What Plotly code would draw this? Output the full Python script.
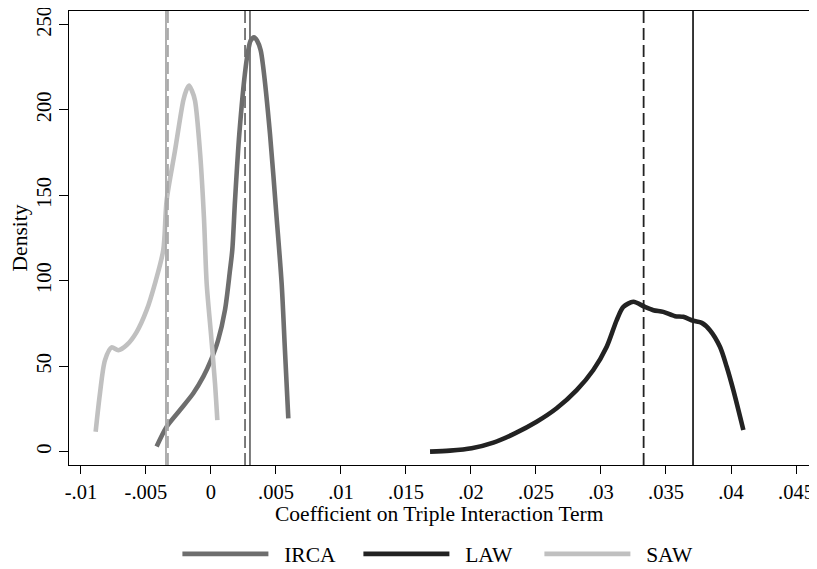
import plotly.graph_objects as go

# ---- data ----
irca_x = [-0.00418, -0.00341, -0.00238, -0.00136, -0.00059, 0.0, 0.00054, 0.00108, 0.00146,
          0.00164, 0.00185, 0.00218, 0.00267, 0.00287, 0.00305, 0.00331, 0.00355, 0.00382,
          0.00402, 0.00454, 0.00505, 0.00544, 0.00569, 0.00595]
irca_y = [3, 14.6, 24.4, 34.2, 43.9, 53.6, 65, 83, 106,
          118, 147, 186, 225, 235, 240.5, 242.5, 240.5, 235,
          225, 186, 137, 98, 59.4, 19.5]

law_x = [0.01685, 0.01838, 0.02005, 0.02172, 0.02338, 0.02505, 0.02659, 0.02813, 0.02941,
         0.03044, 0.03121, 0.03172, 0.03249, 0.03338, 0.03403, 0.03479, 0.0357, 0.03633,
         0.03710, 0.03775, 0.03838, 0.03915, 0.03967, 0.04018, 0.04095]
law_y = [0, 0.6, 2, 5.3, 10.7, 17.5, 25.4, 36, 47.8,
         61.4, 77, 84.7, 87.7, 84.7, 82.8, 81.8, 79.3, 78.9,
         76.6, 75.4, 71.1, 61.4, 49.7, 36, 12.7]

saw_x = [-0.00887, -0.00854, -0.00815, -0.00764, -0.00713, -0.00648, -0.00572, -0.00495,
         -0.00431, -0.00367, -0.00341, -0.00277, -0.00213, -0.00190, -0.00169, -0.00148,
         -0.00123, -0.00085, -0.00054, -0.00033, 0.0, 0.00031, 0.00049]
saw_y = [11.7, 34, 53.6, 61, 59.4, 62.4, 70, 82.8,
         98.4, 118, 147, 176, 205.5, 211.5, 214.3, 211.5,
         205.5, 176, 137, 98.4, 69, 40, 18.5]

# vertical reference lines: (solid, dashed) per series
irca_lines = [0.00300, 0.00262]
law_lines = [0.03708, 0.03328]
saw_lines = [-0.00346, -0.00331]

x_ticks = [-0.01, -0.005, 0, 0.005, 0.01, 0.015, 0.02, 0.025, 0.03, 0.035, 0.04, 0.045]
x_tick_text = ["-.01", "-.005", "0", ".005", ".01", ".015", ".02", ".025", ".03", ".035", ".04", ".045"]
y_ticks = [0, 50, 100, 150, 200, 250]
x_title = "Coefficient on Triple Interaction Term"

C_IRCA = "#6e6e6e"
C_LAW = "#222222"
C_SAW = "#c0c0c0"
FONT = "Liberation Serif"
FS = 21.5
FT = 20.5
NB = "\u00a0\u00a0"

fig = go.Figure()
for xs, ys, nm, col in [(irca_x, irca_y, "IRCA", C_IRCA), (law_x, law_y, "LAW", C_LAW),
                        (saw_x, saw_y, "SAW", C_SAW)]:
    fig.add_trace(go.Scatter(x=xs, y=ys, mode="lines", name=NB + nm,
                             line=dict(color=col, width=4.6, shape="spline", smoothing=0.8)))

for vals, col in [(irca_lines, C_IRCA), (law_lines, C_LAW), (saw_lines, "#a8a8a8")]:
    fig.add_vline(x=vals[0], line=dict(color=col, width=1.8))
    fig.add_vline(x=vals[1], line=dict(color=col, width=1.8, dash="12px,5px"))

# x-axis title as an annotation centred under the plot
fig.add_annotation(text=x_title, xref="paper", yref="paper", x=0.5, y=-0.109,
                   xanchor="center", yanchor="middle", showarrow=False,
                   font=dict(family=FONT, size=FS, color="black"))

# page has an 8px body margin, so the figure is 8px smaller than the window
fig.update_layout(
    width=809, height=561,
    margin=dict(l=61, r=8, t=3, b=104, autoexpand=False),
    paper_bgcolor="white", plot_bgcolor="white",
    font=dict(family=FONT, size=FS, color="black"),
    showlegend=True,
    legend=dict(orientation="h", xref="container", yref="container",
                x=0.545, xanchor="center", y=0.027, yanchor="middle",
                itemwidth=86, entrywidth=80, entrywidthmode="pixels",
                font=dict(size=FS), traceorder="normal"),
)
fig.update_xaxes(
    range=[-0.01092, 0.046], tickvals=x_ticks, ticktext=x_tick_text, automargin=False,
    tickfont=dict(size=FT), ticklabeloverflow="allow",
    ticks="outside", ticklen=8, tickcolor="black", showgrid=False, zeroline=False,
    showline=True, linecolor="black", linewidth=1, mirror=True,
)
fig.update_yaxes(
    range=[-7.8, 257.9], tickvals=y_ticks, tickangle=-90, automargin=False,
    tickfont=dict(size=FT), ticklabeloverflow="allow",
    ticks="outside", ticklen=9, tickcolor="black", showgrid=False, zeroline=False,
    showline=True, linecolor="black", linewidth=1, mirror=True,
    title=dict(text="Density", standoff=2, font=dict(size=FS)),
)

fig.write_html("out.html")
